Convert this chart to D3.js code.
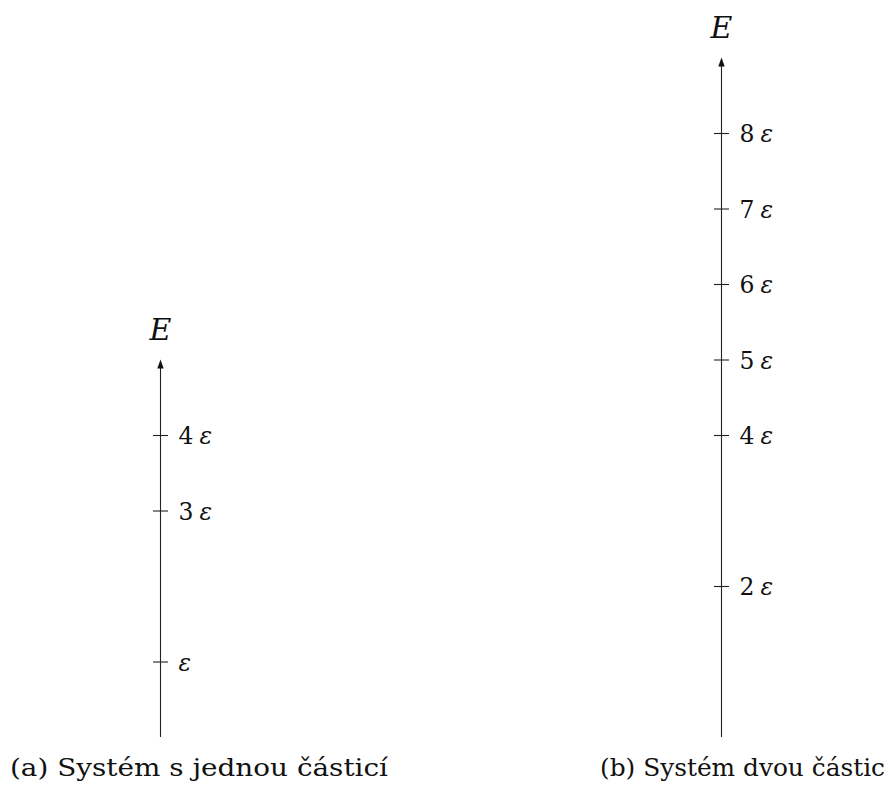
<!DOCTYPE html>
<html><head><meta charset="utf-8">
<script src="https://cdn.jsdelivr.net/npm/d3@7"></script>
<style>body{margin:0;background:#fff}svg{display:block}</style>
</head><body>
<svg id="c" width="890" height="786"></svg>
<script>
// Data
const panelNames = ["(a) Systém s jednou částicí", "(b) Systém dvou částic"];
const axisLabel = "E";
const leftLevels = [1, 3, 4];
const leftTickNumbers = ["", "3", "4"];
const rightLevels = [2, 4, 5, 6, 7, 8];
const rightTickNumbers = ["2", "4", "5", "6", "7", "8"];
const leftMax = 5;
const rightMax = 9;
const epsilon = "ε";

const svg = d3.select("#c");
const font = "'DejaVu Serif', serif";
const y = d3.scaleLinear().domain([0, 9]).range([737, 57.5]);

function drawAxis(cx, levels, nums, maxV, caption, capX, capW) {
  const g = svg.append("g").attr("transform", `translate(${cx},0)`);
  const axis = d3.axisRight(y).tickValues(levels).tickSize(7.5).tickFormat("");
  const ag = g.append("g").call(axis);
  ag.select(".domain").remove();
  ag.selectAll(".tick line").attr("x1", -7.5).attr("stroke", "#222").attr("stroke-width", 1.1);
  g.append("line").attr("x1", 0).attr("x2", 0)
    .attr("y1", y(0)).attr("y2", y(maxV) + 6)
    .attr("stroke", "#222").attr("stroke-width", 1.1);
  const tip = y(maxV);
  g.append("path").attr("d", `M0,${tip} L-3.2,${tip+9} L3.2,${tip+9} Z`).attr("fill", "#111");
  g.append("text").attr("x", 0).attr("y", tip - 20).attr("text-anchor", "middle")
    .attr("font-family", font).attr("font-style", "italic").attr("font-size", 30)
    .attr("fill", "#111").text(axisLabel);
  levels.forEach((v, i) => {
    const t = g.append("text").attr("x", 18).attr("y", y(v) + 9)
      .attr("font-family", font).attr("font-size", 23.5).attr("fill", "#111");
    if (nums[i]) {
      t.append("tspan").text(nums[i]);
      t.append("tspan").attr("dx", 6).attr("font-style", "italic").text(epsilon);
    } else {
      t.append("tspan").attr("font-style", "italic").text(epsilon);
    }
  });
  svg.append("text").attr("x", capX).attr("y", 776)
    .attr("font-family", font).attr("font-size", 25).attr("fill", "#111")
    .attr("textLength", capW).attr("lengthAdjust", "spacingAndGlyphs").text(caption);
}
drawAxis(160.5, leftLevels, leftTickNumbers, leftMax, panelNames[0], 10, 378);
drawAxis(721.5, rightLevels, rightTickNumbers, rightMax, panelNames[1], 600, 285);
</script>
</body></html>
